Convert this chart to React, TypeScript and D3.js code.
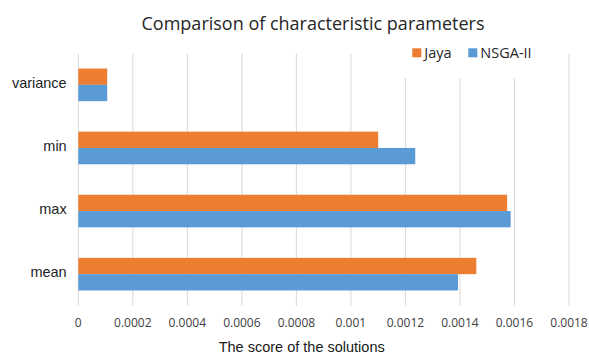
import React from "react";
import * as d3 from "d3";

// Category rows, top to bottom
const categories: string[] = ["variance", "min", "max", "mean"];

// Series values per category
const jayaValues: number[] = [0.000106, 0.0011, 0.001573, 0.00146];
const nsgaValues: number[] = [0.000106, 0.001236, 0.001586, 0.001393];

const seriesNames: string[] = ["Jaya", "NSGA-II"];
const seriesColors: string[] = ["#ED7D31", "#5B9BD5"];

// Axis tick values and their labels
const tickValues: number[] = [0, 0.0002, 0.0004, 0.0006, 0.0008, 0.001, 0.0012, 0.0014, 0.0016, 0.0018];
const tickLabels: string[] = ["0", "0.0002", "0.0004", "0.0006", "0.0008", "0.001", "0.0012", "0.0014", "0.0016", "0.0018"];

const titleText = "Comparison of characteristic parameters";
const xAxisTitle = "The score of the solutions";

const W = 589;
const H = 354;
const plot = { left: 78.3, right: 569, top: 53.3, bottom: 305.7 };

export default function App() {
  const x = d3.scaleLinear().domain([0, 0.0018]).range([plot.left, plot.right]);
  const y = d3
    .scaleBand<string>()
    .domain(categories)
    .range([plot.top, plot.bottom])
    .paddingInner(0.483)
    .paddingOuter(0.2415);
  const sub = d3
    .scaleBand<string>()
    .domain(seriesNames)
    .range([0, y.bandwidth()]);

  const series = [jayaValues, nsgaValues];
  const uiFont = "'Open Sans', 'Noto Sans', sans-serif";
  const arialFont = "'Liberation Sans', Arial, sans-serif";

  return (
    <div style={{ position: "fixed", left: 0, top: 0 }}>
      <svg width={W} height={H} style={{ display: "block", background: "#fff" }}>
        <rect x={0} y={0} width={W} height={H} fill="#fff" />
        {/* vertical gridlines */}
        {tickValues.map((t) => (
          <line
            key={"g" + t}
            x1={x(t)}
            x2={x(t)}
            y1={plot.top}
            y2={plot.bottom}
            stroke="#d9d9d9"
            strokeWidth={1}
          />
        ))}
        {/* legend background covers the gridlines behind it */}
        <rect x={399} y={40} width={148} height={38} fill="#fff" />
        {/* bars */}
        {categories.map((c, i) =>
          seriesNames.map((s, j) => (
            <rect
              key={c + s}
              x={x(0)}
              y={(y(c) as number) + (sub(s) as number)}
              width={x(series[j][i]) - x(0)}
              height={sub.bandwidth()}
              fill={seriesColors[j]}
            />
          ))
        )}
        {/* category labels */}
        {categories.map((c) => (
          <text
            key={"l" + c}
            x={plot.left - 11.6}
            y={(y(c) as number) + y.bandwidth() / 2}
            dy="0.2em"
            textAnchor="end"
            style={{ fontFamily: arialFont }}
            fontSize={14.5}
            fill="#1f1f1f"
          >
            {c}
          </text>
        ))}
        {/* tick labels */}
        {tickValues.map((t, i) => (
          <text
            key={"t" + t}
            x={x(t)}
            y={327.3}
            textAnchor="middle"
            style={{ fontFamily: uiFont }}
            fontSize={12}
            fill="#404040"
          >
            {tickLabels[i]}
          </text>
        ))}
        {/* title */}
        <text
          x={313}
          y={29.5}
          textAnchor="middle"
          style={{ fontFamily: uiFont }}
          fontSize={18}
          fill="#262626"
        >
          {titleText}
        </text>
        {/* x axis title */}
        <text
          x={301.7}
          y={351.5}
          textAnchor="middle"
          style={{ fontFamily: arialFont }}
          fontSize={14.5}
          fill="#1a1a1a"
        >
          {xAxisTitle}
        </text>
        {/* legend */}
        {seriesNames.map((s, j) => {
          const lx = [412.3, 468.3][j];
          return (
            <g key={"lg" + s}>
              <rect x={lx} y={48.3} width={9} height={9} fill={seriesColors[j]} />
              <text
                x={lx + 12}
                y={58}
                style={{ fontFamily: uiFont }}
                fontSize={14.5}
                fill="#262626"
              >
                {s}
              </text>
            </g>
          );
        })}
      </svg>
    </div>
  );
}
